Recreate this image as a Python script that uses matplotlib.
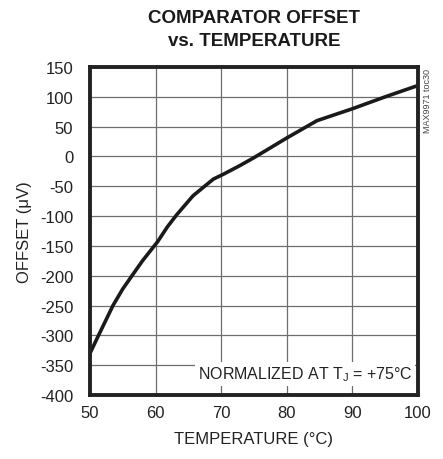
import matplotlib.pyplot as plt

# temperature (C) vs comparator offset (uV)
temp = [50, 51.3, 53.5, 55, 56.4, 58, 60.3, 61.8, 63.2, 65.7, 68.8, 70.3, 72.9, 75, 80, 84.6, 90, 95, 100]
offset = [-330, -300, -250, -222, -200, -175, -143, -118, -98, -66, -38, -30, -15, -2, 31, 60, 80, 100, 119]

xticks = [50, 60, 70, 80, 90, 100]
yticks = list(range(-400, 151, 50))

plt.rcParams['font.family'] = ['Liberation Sans', 'DejaVu Sans']
plt.rcParams['axes.unicode_minus'] = False

fig = plt.figure(figsize=(4.43, 4.60), dpi=100)
ax = fig.add_axes([90 / 443, 1 - 396 / 460, 328 / 443, 328 / 460])

ax.plot(temp, offset, color='#1a1a1a', lw=2.6, solid_joinstyle='round')
ax.set_xlim(50, 100)
ax.set_ylim(-400, 150)
ax.set_xticks(xticks)
ax.set_yticks(yticks)
ax.grid(True, color='#6e6e6e', lw=0.9)
ax.tick_params(length=0, labelsize=12, colors='#222222')
ax.tick_params(axis='x', pad=7)
ax.tick_params(axis='y', pad=12)
for s in ax.spines.values():
    s.set_linewidth(2.8)
    s.set_color('#222222')

ax.set_xlabel('TEMPERATURE (°C)', fontsize=12, color='#222222', labelpad=8)
ax.set_ylabel('OFFSET (\u03bcV)', fontsize=12, color='#222222', labelpad=6)

ax.text(99.2, -365, 'NORMALIZED AT T$_\\mathregular{J}$ = +75°C', fontsize=11.5, ha='right', va='center',
        color='#222222', bbox=dict(facecolor='white', edgecolor='none', pad=2))

fig.text(254 / 443, 1 - 30 / 460, 'COMPARATOR OFFSET\nvs. TEMPERATURE', ha='center', va='center',
         fontsize=13.5, fontweight='bold', linespacing=1.45, color='#1a1a1a')
fig.text(427 / 443, 1 - 69 / 460, 'MAX9971 toc30', rotation=90, ha='center', va='top',
         fontsize=6.5, color='#444444')

fig.savefig('out.png', dpi=100)
